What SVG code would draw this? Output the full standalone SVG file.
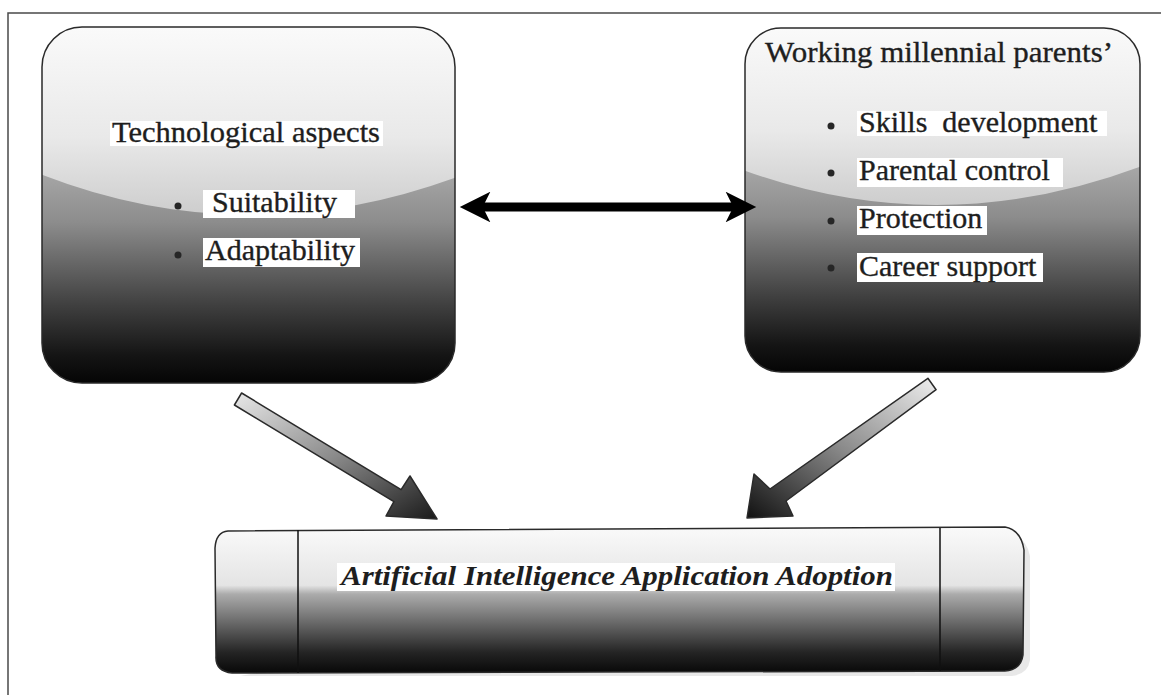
<svg xmlns="http://www.w3.org/2000/svg" width="1161" height="695" viewBox="0 0 1161 695">
  <defs>
    <style>
      .frame { fill: none; stroke: #4a4a4a; stroke-width: 1.5; }
      .edge { stroke: #2a2a2a; stroke-width: 1.5; }
      .label { font-family: "Liberation Serif", "Times New Roman", serif; font-size: 30px; fill: #1e1e1e; stroke: #1e1e1e; stroke-width: 0.35; }
      .title { font-family: "Liberation Serif", "Times New Roman", serif; font-size: 28px; font-weight: bold; font-style: italic; fill: #1e1e1e; }
      .tag { fill: #ffffff; }
      .dot { fill: #262626; }
      .link { stroke: #000000; stroke-width: 9; fill: none; }
      .pointer { stroke: #2a2a2a; stroke-width: 1.5; stroke-linejoin: round; }
    </style>
    <!-- glossy top half -->
    <linearGradient id="gloss" x1="0" y1="0" x2="0" y2="1">
      <stop offset="0" stop-color="#fbfbfb"/>
      <stop offset="0.6" stop-color="#e9e9e9"/>
      <stop offset="1" stop-color="#cdcdcd"/>
    </linearGradient>
    <!-- dark body -->
    <linearGradient id="body" x1="0" y1="0" x2="0" y2="1">
      <stop offset="0.40" stop-color="#a8a8a8"/>
      <stop offset="0.55" stop-color="#8c8c8c"/>
      <stop offset="0.78" stop-color="#404040"/>
      <stop offset="0.92" stop-color="#151515"/>
      <stop offset="1" stop-color="#050505"/>
    </linearGradient>
    <linearGradient id="bar" x1="0" y1="0" x2="0" y2="1">
      <stop offset="0" stop-color="#fafafa"/>
      <stop offset="0.40" stop-color="#e4e4e4"/>
      <stop offset="0.46" stop-color="#ababab"/>
      <stop offset="0.64" stop-color="#6e6e6e"/>
      <stop offset="0.86" stop-color="#242424"/>
      <stop offset="1" stop-color="#080808"/>
    </linearGradient>
    <linearGradient id="shaftL" x1="0" y1="0" x2="1" y2="1">
      <stop offset="0" stop-color="#e8e8e8"/>
      <stop offset="0.5" stop-color="#8a8a8a"/>
      <stop offset="1" stop-color="#1a1a1a"/>
    </linearGradient>
    <linearGradient id="shaftR" x1="1" y1="0" x2="0" y2="1">
      <stop offset="0" stop-color="#eeeeee"/>
      <stop offset="0.5" stop-color="#8a8a8a"/>
      <stop offset="1" stop-color="#111111"/>
    </linearGradient>
    <clipPath id="clipLeft">
      <rect x="42" y="27" width="413" height="356" rx="40" ry="40"/>
    </clipPath>
    <clipPath id="clipRight">
      <rect x="745" y="28" width="395" height="344" rx="36" ry="36"/>
    </clipPath>
    <marker id="head" viewBox="0 0 10 10" refX="6" refY="5" markerWidth="4" markerHeight="3.4" orient="auto-start-reverse" markerUnits="strokeWidth">
      <path d="M0,0 L10,5 L0,10 L2.5,5 Z" fill="#000000"/>
    </marker>
  </defs>

  <rect width="1161" height="695" fill="#ffffff"/>
  <rect class="frame" x="8" y="13" width="1160" height="690"/>

  <!-- Technological aspects -->
  <g id="node-tech">
    <rect x="42" y="27" width="413" height="356" rx="40" ry="40" fill="url(#body)"/>
    <path clip-path="url(#clipLeft)" d="M30,20 H470 V172 Q247,259 30,170 Z" fill="url(#gloss)"/>
    <rect class="edge" x="42" y="27" width="413" height="356" rx="40" ry="40" fill="none"/>
    <rect class="tag" x="110" y="121" width="273" height="25"/>
    <text class="label" x="246" y="142" text-anchor="middle" textLength="268" lengthAdjust="spacingAndGlyphs">Technological aspects</text>
    <circle class="dot" cx="178" cy="206" r="3.5"/>
    <rect class="tag" x="203" y="190" width="152" height="28"/>
    <text class="label" x="212" y="212">Suitability</text>
    <circle class="dot" cx="178" cy="255" r="3.5"/>
    <rect class="tag" x="203" y="238" width="157" height="29"/>
    <text class="label" x="205" y="260">Adaptability</text>
  </g>

  <!-- Working millennial parents' -->
  <g id="node-parents">
    <rect x="745" y="28" width="395" height="344" rx="36" ry="36" fill="url(#body)"/>
    <path clip-path="url(#clipRight)" d="M735,20 H1150 V163 Q940,245 735,167 Z" fill="url(#gloss)"/>
    <rect class="edge" x="745" y="28" width="395" height="344" rx="36" ry="36" fill="none"/>
    <text class="label" x="765" y="62" textLength="348" lengthAdjust="spacingAndGlyphs">Working millennial parents’</text>
    <circle class="dot" cx="831" cy="126" r="3.5"/>
    <rect class="tag" x="857" y="111" width="250" height="25"/>
    <text class="label" x="859" y="132" style="white-space:pre">Skills  development</text>
    <circle class="dot" cx="831" cy="173" r="3.5"/>
    <rect class="tag" x="857" y="158" width="206" height="29"/>
    <text class="label" x="859" y="180">Parental control</text>
    <circle class="dot" cx="831" cy="221" r="3.5"/>
    <rect class="tag" x="857" y="206" width="130" height="29"/>
    <text class="label" x="859" y="228">Protection</text>
    <circle class="dot" cx="831" cy="268" r="3.5"/>
    <rect class="tag" x="857" y="253" width="186" height="29"/>
    <text class="label" x="859" y="276">Career support</text>
  </g>

  <!-- Artificial Intelligence Application Adoption -->
  <g id="node-adoption">
    <path d="M1008,533 Q1026,536 1030,556 L1030,660 Q1028,674 1012,676 L240,676 Z" fill="#d8d8d8" opacity="0.6"/>
    <path d="M228,531 L1005,527 Q1021,530 1024,550 L1023,655 Q1021,670 1005,671 L232,673 Q215,671 216,656 L215,548 Q216,532 228,531 Z" fill="url(#bar)"/>
    <path class="edge" d="M228,531 L1005,527 Q1021,530 1024,550 L1023,655 Q1021,670 1005,671 L232,673 Q215,671 216,656 L215,548 Q216,532 228,531 Z" fill="none"/>
    <line x1="298" y1="530" x2="298" y2="673" stroke="#111" stroke-width="1.5"/>
    <line x1="940" y1="528" x2="940" y2="671" stroke="#111" stroke-width="1.5"/>
    <rect class="tag" x="337" y="563" width="558" height="28"/>
    <text class="title" x="341" y="585" textLength="552" lengthAdjust="spacingAndGlyphs">Artificial Intelligence Application Adoption</text>
  </g>

  <!-- connectors -->
  <g id="connectors">
    <line class="link" x1="472" y1="207" x2="744" y2="207" marker-start="url(#head)" marker-end="url(#head)"/>
    <polygon class="pointer" fill="url(#shaftL)" points="241.6,393 401.1,489.7 410,476 437,519 386,516 393.9,501.7 234.4,405"/>
    <polygon class="pointer" fill="url(#shaftR)" points="927.9,378.3 936.1,389.7 786,501 793,516 747,518 754,474 770,489"/>
  </g>
</svg>
